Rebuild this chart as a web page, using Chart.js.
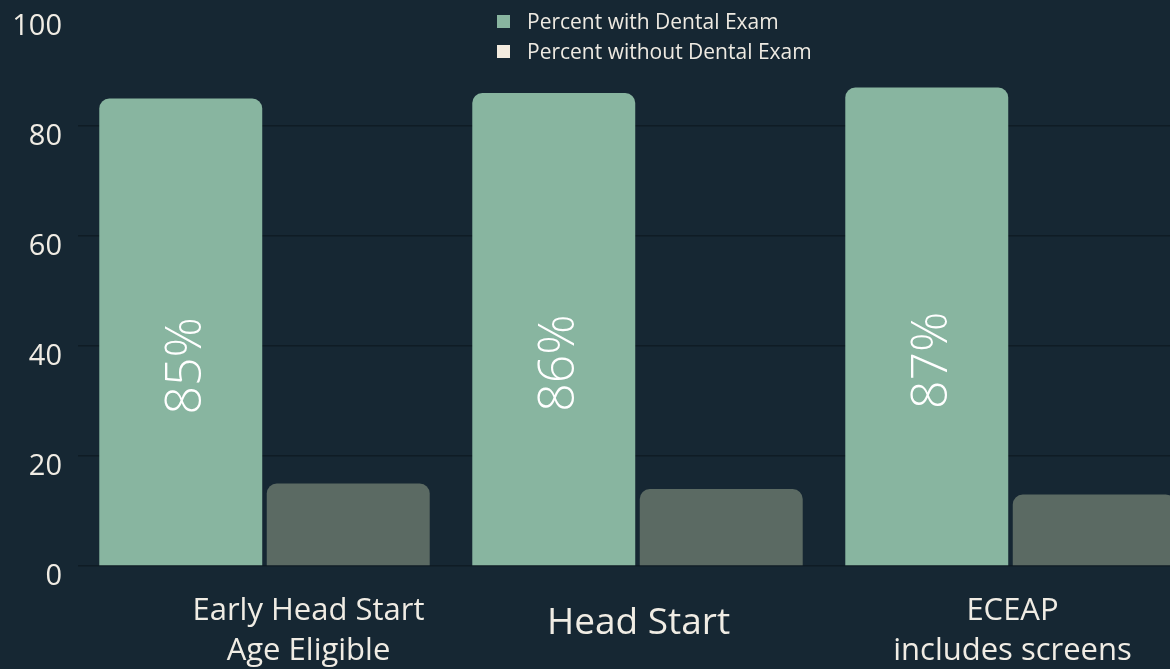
<!DOCTYPE html>
<html>
<head>
<meta charset="utf-8">
<script src="https://cdn.jsdelivr.net/npm/chart.js@4/dist/chart.umd.min.js"></script>
<style>
    html, body { margin: 0; padding: 0; background: #162733; overflow: hidden; }
    #wrap { position: relative; width: 1170px; height: 669px; overflow: hidden; }
    #box { position: absolute; left: 0; top: 0; width: 1200px; height: 669px; }
    #legend { position: absolute; left: 490px; top: 6px; font-family: 'Open Sans', sans-serif; font-size: 21px; color: #eeeae2; }
    #legend .item { display: flex; align-items: center; height: 30px; }
    #legend .sw { width: 13px; height: 13px; margin-right: 17px; margin-left: 7px; }
</style>
</head>
<body>
<div id="wrap">
    <div id="box"><canvas id="chart"></canvas></div>
    <div id="legend"></div>
</div>
<script>
// Chart data
const categories = [['Early Head Start', 'Age Eligible'], 'Head Start', ['ECEAP', 'includes screens']];
const seriesNames = ['Percent with Dental Exam', 'Percent without Dental Exam'];
const withExam = [85, 86, 87];
const withoutExam = [15, 14, 13];
const yTicks = [0, 20, 40, 60, 80, 100];

const colors = {
    bg: '#162733',
    withExam: '#88b5a0',
    withoutExam: '#5b6a63',
    legendWithout: '#f3ebdf',
    grid: '#0f1c25',
    text: '#f0ece4'
};

// horizontal nudge of each category label (the first one sits right of centre)
const labelShift = [44, 1, 2];

/**
 * Rotated percent labels inside the green bars
 */
const percentLabels = {
    id: 'percentLabels',
    afterDatasetsDraw(chart) {
        const ctx = chart.ctx;
        const meta = chart.getDatasetMeta(0);
        ctx.save();
        ctx.fillStyle = '#ffffff';
        ctx.font = '300 50px "Open Sans", sans-serif';
        ctx.textAlign = 'center';
        ctx.textBaseline = 'middle';
        meta.data.forEach((bar, i) => {
            const cy = (bar.y + bar.base) / 2 + 34;
            ctx.save();
            ctx.translate(bar.x + 6, cy);
            ctx.rotate(-Math.PI / 2);
            ctx.fillText(withExam[i] + '%', 0, 0);
            ctx.restore();
        });
        ctx.restore();
    }
};

/**
 * Shift the x category labels sideways
 */
const shiftLabels = {
    id: 'shiftLabels',
    beforeDraw(chart) {
        const scale = chart.scales.x;
        const items = scale.getLabelItems(chart.chartArea);
        items.forEach((item, i) => {
            if (!item._shifted) {
                item.options.translation[0] += labelShift[i] || 0;
                item._shifted = true;
            }
        });
    }
};

// Simple HTML legend
const legendEl = document.getElementById('legend');
[colors.withExam, colors.legendWithout].forEach((c, i) => {
    const item = document.createElement('div');
    item.className = 'item';
    item.innerHTML = `<span class="sw" style="background:${c}"></span><span>${seriesNames[i]}</span>`;
    legendEl.appendChild(item);
});

const ctx = document.getElementById('chart');
new Chart(ctx, {
    type: 'bar',
    data: {
        labels: categories,
        datasets: [{
            label: seriesNames[0],
            data: withExam,
            backgroundColor: colors.withExam,
            borderRadius: 10,
            borderSkipped: 'bottom'
        }, {
            label: seriesNames[1],
            data: withoutExam,
            backgroundColor: colors.withoutExam,
            borderRadius: 10,
            borderSkipped: 'bottom'
        }]
    },
    options: {
        responsive: true,
        maintainAspectRatio: false,
        animation: false,
        categoryPercentage: 0.898,
        barPercentage: 0.973,
        layout: { padding: { top: 16, right: 3, left: 0, bottom: 0 } },
        plugins: {
            legend: { display: false },
            tooltip: { enabled: false }
        },
        scales: {
            x: {
                grid: { display: false, drawTicks: false },
                border: { display: false },
                afterFit: (scale) => {
                    scale.height = 103;
                    scale.paddingLeft = 0;
                    scale.paddingRight = 0;
                },
                ticks: {
                    color: colors.text,
                    padding: 25,
                    maxRotation: 0,
                    autoSkip: false,
                    font: (c) => c.index === 1
                        ? { family: 'Open Sans', size: 37, lineHeight: 1.73 }
                        : { family: 'Open Sans', size: 31, lineHeight: 1.29 }
                }
            },
            y: {
                min: 0,
                max: 100,
                afterFit: (scale) => {
                    scale.width = 78;
                    scale.paddingTop = 0;
                    scale.paddingBottom = 0;
                },
                afterBuildTicks: (scale) => { scale.ticks = yTicks.map(v => ({ value: v })); },
                grid: {
                    drawTicks: false,
                    lineWidth: 1.5,
                    color: (c) => c.tick && c.tick.value === 100 ? 'rgba(0,0,0,0)' : colors.grid
                },
                border: { display: false },
                ticks: {
                    color: colors.text,
                    padding: 16,
                    labelOffset: 11,
                    font: { family: 'Open Sans', size: 29 }
                }
            }
        }
    },
    plugins: [percentLabels, shiftLabels]
});
</script>
</body>
</html>
